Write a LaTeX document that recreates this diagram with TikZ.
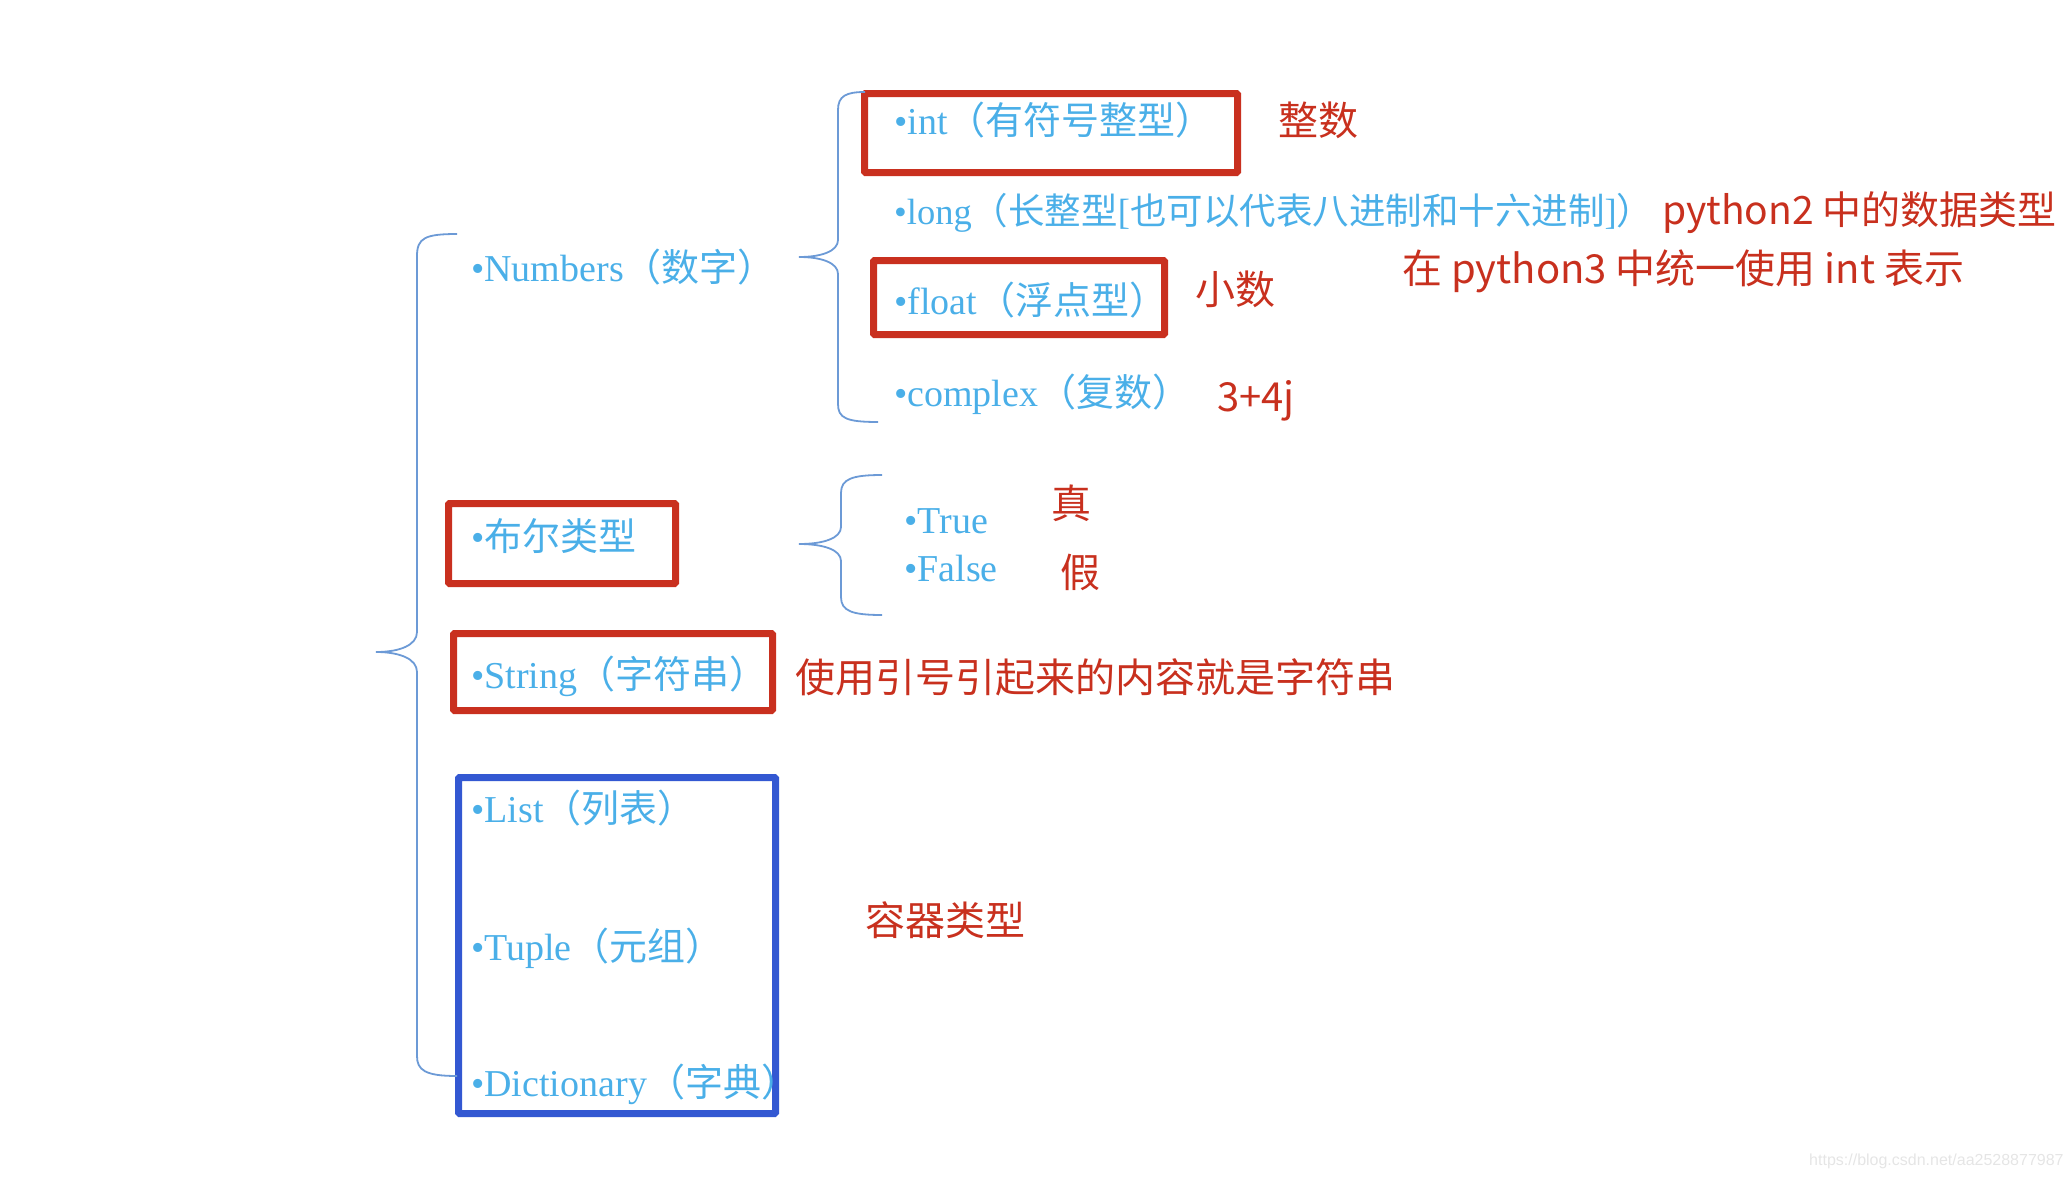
\documentclass[tikz,border=0pt]{standalone}
\usepackage{fontspec}
\setmainfont{Liberation Serif}
\newfontfamily\cjk{Noto Sans CJK SC}
\newfontfamily\wmfont{Liberation Sans}
\definecolor{tblue}{HTML}{4AAFE8}
\definecolor{tred}{HTML}{C8301E}
\definecolor{bred}{HTML}{C9301F}
\definecolor{bblue}{HTML}{3358D2}
\definecolor{brc}{HTML}{6C9AD6}
\begin{document}
\begin{tikzpicture}[x=1pt,y=-1pt,
  item/.style={anchor=base west, inner sep=0pt, text=tblue, font=\fontsize{38}{42}\selectfont},
  note/.style={anchor=base west, inner sep=0pt, text=tred, font=\cjk\fontsize{40}{44}\selectfont},
  redbox/.style={draw=bred, line width=7pt, rounded corners=1pt, inner sep=0pt},
  bluebox/.style={draw=bblue, line width=7pt, rounded corners=1pt, inner sep=0pt},
  brace/.style={draw=brc, line width=1.8pt}]
\useasboundingbox (0,0) rectangle (2070,1178);

% boxes
\node[redbox, minimum width=373pt, minimum height=79pt] (intbox) at (1051,133) {};
\node[redbox, minimum width=291pt, minimum height=74pt] (floatbox) at (1019,297.5) {};
\node[redbox, minimum width=227pt, minimum height=80pt] (boolbox) at (562,543.5) {};
\node[redbox, minimum width=319pt, minimum height=77pt] (strbox) at (613,672) {};
\node[bluebox, minimum width=317pt, minimum height=336pt] (contbox) at (617,945.5) {};

% blue items
\node[item] (num) at (471,281) {•Numbers{\cjk （数字）}};
\node[item] (int) at (894,134) {•int{\cjk （有符号整型）}};
\node[item, font=\fontsize{36.5}{40}\selectfont] (long) at (894,224) {•long{\cjk （长整型}[{\cjk 也可以代表八进制和十六进制}]{\cjk ）}};
\node[item] (float) at (894,314) {•float{\cjk （浮点型）}};
\node[item] (complex) at (894,406) {•complex{\cjk （复数）}};
\node[item] (bool) at (471,550) {•{\cjk 布尔类型}};
\node[item] (true) at (904,533) {•True};
\node[item] (false) at (904,581) {•False};
\node[item] (str) at (471,688) {•String{\cjk （字符串）}};
\node[item] (list) at (471,822) {•List{\cjk （列表）}};
\node[item] (tuple) at (471,960) {•Tuple{\cjk （元组）}};
\node[item] (dict) at (471,1096) {•Dictionary{\cjk （字典）}};

% red notes
\node[note] (n-int) at (1278,135) {整数};
\node[note, font=\cjk\fontsize{39}{43}\selectfont] (n-py2) at (1662,224) {python2 中的数据类型};
\node[note] (n-py3) at (1402,283) {在 python3 中统一使用 int 表示};
\node[note] (n-float) at (1195,304) {小数};
\node[note] (n-cplx) at (1217,411) {3+4j};
\node[note] (n-true) at (1051,518) {真};
\node[note] (n-false) at (1060,587) {假};
\node[note] (n-str) at (795,692) {使用引号引起来的内容就是字符串};
\node[note] (n-cont) at (865,935) {容器类型};

% braces
\coordinate (bt) at (457,234);
\coordinate (bc) at (376,652);
\coordinate (bb) at (457,1076);
\draw[brace] (bt) .. controls (425,234) and (417,238) .. (417,256) -- (417,632)
  .. controls (417,645) and (400,652) .. (bc)
  .. controls (400,652) and (417,659) .. (417,672) -- (417,1056)
  .. controls (417,1070) and (425,1076) .. (bb);

\coordinate (nt) at (865,92);
\coordinate (nc) at (799,257);
\coordinate (nb) at (878,422);
\draw[brace] (nt) .. controls (846,92) and (838,96) .. (838,110) -- (838,240)
  .. controls (838,251) and (822,257) .. (nc)
  .. controls (822,257) and (838,263) .. (838,274) -- (838,404)
  .. controls (838,418) and (846,422) .. (nb);

\coordinate (ot) at (882,475);
\coordinate (oc) at (799,544);
\coordinate (ob) at (882,615);
\draw[brace] (ot) .. controls (852,475) and (841,479) .. (841,493) -- (841,527)
  .. controls (841,538) and (824,544) .. (oc)
  .. controls (824,544) and (841,550) .. (841,561) -- (841,597)
  .. controls (841,611) and (852,615) .. (ob);

% watermark
\node[anchor=base west, inner sep=0pt, text=black!10, font=\wmfont\fontsize{16}{18}\selectfont] (wm) at (1809,1165) {https://blog.csdn.net/aa2528877987};
\end{tikzpicture}
\end{document}
